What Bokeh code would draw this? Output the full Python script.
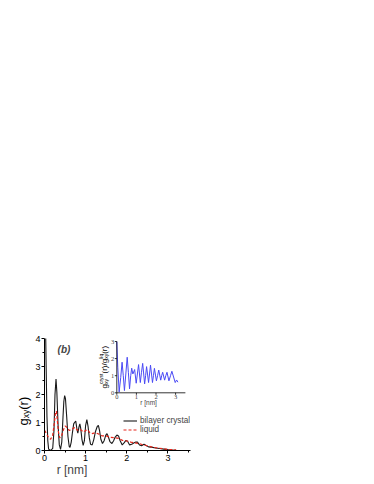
from math import pi
from bokeh.plotting import figure
from bokeh.models import (Range1d, FixedTicker, Label, LabelSet, ColumnDataSource,
                          Legend, LegendItem)
from bokeh.embed import file_html
from bokeh.resources import INLINE

# ---------------- data ----------------
r_cryst = [0.00, 0.02, 0.04, 0.06, 0.08, 0.10, 0.15, 0.20, 0.23, 0.255, 0.28, 0.30, 0.33, 0.36,
           0.39, 0.42, 0.45, 0.47, 0.49, 0.51, 0.54, 0.57, 0.60, 0.62, 0.65, 0.68, 0.71, 0.73,
           0.76, 0.79, 0.81, 0.84, 0.86, 0.88, 0.91, 0.94, 0.97, 1.00, 1.03, 1.06, 1.09, 1.12,
           1.16, 1.20, 1.24, 1.28, 1.31, 1.34, 1.37, 1.41, 1.45, 1.49, 1.52, 1.55, 1.59, 1.64,
           1.68, 1.72, 1.76, 1.80, 1.84, 1.89, 1.94, 1.98, 2.02, 2.07, 2.12, 2.17, 2.22, 2.26,
           2.31, 2.36, 2.42, 2.47, 2.53, 2.60, 2.70, 2.80, 2.90, 3.00, 3.10, 3.20]
g_cryst = [6.0, 5.0, 3.0, 1.2, 0.35, 0.05, 0.0, 0.08, 0.7, 2.0, 2.55, 2.1, 0.9, 0.2,
           0.04, 0.3, 1.2, 1.75, 1.96, 1.85, 1.2, 0.5, 0.15, 0.11, 0.3, 0.65, 0.95, 1.0,
           1.05, 0.75, 0.62, 0.85, 0.95, 0.8, 0.4, 0.18, 0.35, 0.9, 1.1, 0.85, 0.45, 0.22,
           0.2, 0.4, 0.68, 0.85, 0.9, 0.7, 0.4, 0.25, 0.35, 0.55, 0.6, 0.5, 0.32, 0.25,
           0.35, 0.48, 0.55, 0.52, 0.35, 0.2, 0.28, 0.36, 0.33, 0.2, 0.22, 0.27, 0.3, 0.3,
           0.2, 0.17, 0.22, 0.18, 0.13, 0.12, 0.09, 0.07, 0.05, 0.03, 0.02, 0.01]

r_liq = [0.00, 0.05, 0.10, 0.15, 0.20, 0.24, 0.27, 0.29, 0.31, 0.34, 0.37, 0.41, 0.45, 0.50,
         0.55, 0.60, 0.65, 0.70, 0.75, 0.80, 0.85, 0.90, 0.95, 1.00, 1.05, 1.10, 1.15, 1.20,
         1.25, 1.30, 1.35, 1.40, 1.50, 1.60, 1.70, 1.80, 1.90, 2.00, 2.10, 2.20, 2.30, 2.40,
         2.50, 2.60, 2.70, 2.80, 2.90, 3.00, 3.10, 3.20]
g_liq = [0.72, 0.6, 0.45, 0.4, 0.55, 1.0, 1.38, 1.4, 1.1, 0.65, 0.45, 0.5, 0.7, 0.88,
         0.82, 0.72, 0.74, 0.8, 0.82, 0.72, 0.76, 0.72, 0.66, 0.72, 0.74, 0.64, 0.6, 0.62,
         0.63, 0.6, 0.57, 0.52, 0.52, 0.47, 0.46, 0.43, 0.36, 0.34, 0.3, 0.27, 0.25, 0.2,
         0.17, 0.13, 0.1, 0.08, 0.06, 0.04, 0.03, 0.02]

r_ratio = [0.00, 0.05, 0.12, 0.20, 0.27, 0.33, 0.39, 0.46, 0.53, 0.59, 0.65, 0.71, 0.76, 0.82,
           0.91, 0.99, 1.05, 1.11, 1.20, 1.26, 1.32, 1.42, 1.47, 1.52, 1.62, 1.67, 1.72, 1.82,
           1.87, 1.92, 2.02, 2.08, 2.14, 2.24, 2.29, 2.34, 2.44, 2.50, 2.56, 2.66, 2.74, 2.81,
           2.98, 3.05, 3.12]
ratio = [3.0, 1.5, 0.05, 0.9, 1.79, 1.0, 0.13, 1.1, 2.08, 1.2, 0.23, 1.0, 1.44, 1.1,
         1.36, 0.56, 1.1, 1.65, 0.6, 1.2, 1.72, 0.52, 1.0, 1.53, 0.6, 1.1, 1.62, 0.6,
         1.0, 1.43, 0.7, 1.0, 1.33, 0.74, 1.0, 1.2, 0.74, 1.0, 1.2, 0.7, 1.0, 1.26,
         0.6, 0.75, 0.62]

main_xticks = [0, 1, 2, 3]
main_xminor = [0.5, 1.5, 2.5, 3.5]
main_yticks = [0, 1, 2, 3, 4]
main_yminor = [0.5, 1.5, 2.5, 3.5]
inset_xticks = [0, 1, 2, 3]
inset_yticks = [0, 1, 2, 3]
inset_xmax = 3.5
inset_ymax = 3

FONT = "Liberation Sans"

# ---------------- layout (pixels) ----------------
FRAME_W, FRAME_H = 146, 112
IN_X0, IN_Y0 = 72.3, 57.7       # inset origin: px from frame left / frame bottom
IN_SX, IN_SY = 19.6, 17.1       # inset px per unit

p = figure(width=370, height=482, x_range=Range1d(0, 3.55), y_range=Range1d(0, 4),
           output_backend="svg", toolbar_location=None, title=None,
           min_border_left=44, min_border_right=180, min_border_top=338,
           min_border_bottom=32)
p.outline_line_color = None
p.grid.visible = False
p.background_fill_color = "white"

for ax in (p.xaxis[0], p.yaxis[0]):
    ax.axis_line_color = "black"
    ax.axis_line_width = 1
    ax.major_tick_in = 0
    ax.major_tick_out = 3
    ax.minor_tick_in = 0
    ax.minor_tick_out = 2
    ax.major_tick_line_color = "black"
    ax.minor_tick_line_color = "black"
    ax.major_label_text_font = FONT
    ax.major_label_text_font_size = "9px"
    ax.major_label_text_color = "black"
    ax.major_label_standoff = 1
p.xaxis.ticker = FixedTicker(ticks=main_xticks, minor_ticks=main_xminor)
p.yaxis.ticker = FixedTicker(ticks=main_yticks, minor_ticks=main_yminor)

# inset ranges
ixs = -IN_X0 / IN_SX
iys = -IN_Y0 / IN_SY
p.extra_x_ranges = {"ix": Range1d(ixs, ixs + FRAME_W / IN_SX)}
p.extra_y_ranges = {"iy": Range1d(iys, iys + FRAME_H / IN_SY)}

# main curves
l_cryst = p.line(r_cryst, g_cryst, line_color="#1a1a1a", line_width=1.1)
l_liq = p.line(r_liq, g_liq, line_color="#e8261c", line_width=1.2, line_dash="3 2")

# inset curve
p.line(r_ratio, ratio, line_color="#4a4af5", line_width=1.0,
       x_range_name="ix", y_range_name="iy")

# inset axes
p.segment(x0=[0, 0], y0=[0, 0], x1=[inset_xmax, 0], y1=[0, inset_ymax],
          line_color="black", line_width=0.8, x_range_name="ix", y_range_name="iy")
tl_y = 2.0 / IN_SY
tl_x = 2.0 / IN_SX
p.segment(x0=inset_xticks, y0=[0] * len(inset_xticks), x1=inset_xticks,
          y1=[-tl_y] * len(inset_xticks), line_color="black", line_width=0.8,
          x_range_name="ix", y_range_name="iy")
p.segment(x0=[0] * len(inset_yticks), y0=inset_yticks, x1=[-tl_x] * len(inset_yticks),
          y1=inset_yticks, line_color="black", line_width=0.8,
          x_range_name="ix", y_range_name="iy")

src_ix = ColumnDataSource(dict(x=inset_xticks, y=[0] * len(inset_xticks),
                               t=[str(v) for v in inset_xticks]))
src_iy = ColumnDataSource(dict(x=[0] * len(inset_yticks), y=inset_yticks,
                               t=[str(v) for v in inset_yticks]))
p.add_layout(LabelSet(x="x", y="y", text="t", source=src_ix, y_offset=-2.5,
                      text_align="center", text_baseline="top", text_font=FONT,
                      text_font_size="6.5px", x_range_name="ix", y_range_name="iy"))
p.add_layout(LabelSet(x="x", y="y", text="t", source=src_iy, x_offset=-2.5,
                      text_align="right", text_baseline="middle", text_font=FONT,
                      text_font_size="6.5px", x_range_name="ix", y_range_name="iy"))
p.add_layout(Label(x=1.62, y=0, y_offset=-9.5, text="r [nm]", text_align="center",
                   text_baseline="middle", text_font=FONT, text_font_size="6.5px",
                   x_range_name="ix", y_range_name="iy"))

# ---------------- texts ----------------
CW = {"g": .556, "x": .5, "y": .5, "(": .333, ")": .333, "r": .333, "/": .278,
      "c": .5, "s": .5, "t": .278, "l": .222, "i": .222, "q": .556}


def text_w(s, size):
    return sum(CW.get(ch, 0.55) for ch in s) * size


def add_rot_runs(x_px, y_px, groups, place=None):
    y = y_px
    for group in groups:
        adv = 0
        for text, size, shift in group:
            lab = Label(x=0, y=0, x_offset=x_px - shift, y_offset=y, text=text,
                        angle=pi / 2, text_font=FONT, text_font_size=f"{size}px",
                        text_align="left", text_baseline="alphabetic",
                        text_color="black")
            if place:
                p.add_layout(lab, place)
            else:
                p.add_layout(lab)
            adv = max(adv, text_w(text, size))
        y += adv


# main y label g_xy(r)  (outside the frame -> side panel so it is not clipped)
add_rot_runs(-21.5, 25, [[("g", 13, 0)], [("xy", 8.5, -3)], [("(r)", 13, 0)]],
             place="above")
# inset y label g_xy^cryst(r)/g_xy^liq(r)
add_rot_runs(60, 62, [[("g", 8, 0)], [("xy", 5, -1.5), ("cryst", 5, 3.5)],
                      [("(r)/g", 8, 0)], [("xy", 5, -1.5), ("liq", 5, 3.5)],
                      [("(r)", 8, 0)]])

# main x label
p.add_layout(Label(x=0, y=0, x_offset=27.5, y_offset=-19, text="r [nm]",
                   text_align="center", text_baseline="alphabetic", text_font=FONT,
                   text_font_size="12px"), "above")
# panel tag
p.add_layout(Label(x=0, y=0, x_offset=19.5, y_offset=101, text="(b)",
                   text_align="center", text_baseline="middle", text_font=FONT,
                   text_font_size="10px", text_font_style="bold italic"))

legend = Legend(items=[LegendItem(label="bilayer crystal", renderers=[l_cryst]),
                       LegendItem(label="liquid", renderers=[l_liq])],
                location=(79, 16), orientation="vertical")
legend.background_fill_alpha = 0
legend.border_line_color = None
legend.padding = 0
legend.margin = 0
legend.spacing = 0
legend.glyph_width = 14
legend.glyph_height = 7
legend.label_height = 7
legend.label_standoff = 3
legend.label_text_font = FONT
legend.label_text_font_size = "8.2px"
p.add_layout(legend)

open("out.html", "w").write(file_html(p, INLINE))
